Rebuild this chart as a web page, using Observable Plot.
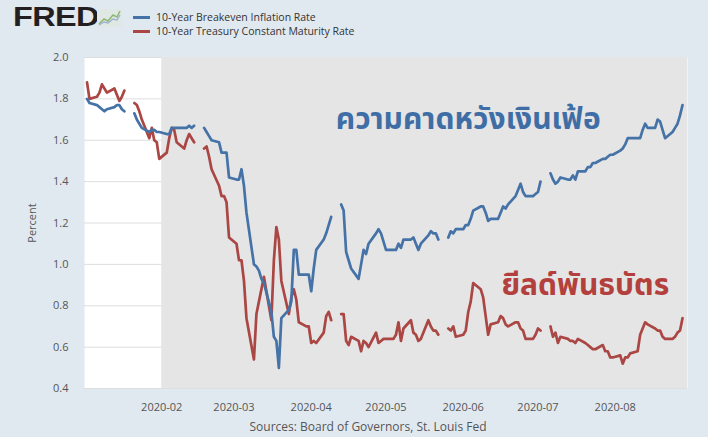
<!DOCTYPE html>
<html>
<head>
<meta charset="utf-8">
<script src="https://cdn.jsdelivr.net/npm/d3@7"></script>
<script src="https://cdn.jsdelivr.net/npm/@observablehq/plot@0.6"></script>
<style>
  html, body { margin: 0; padding: 0; background: #e1e9f0; }
  #wrap { width: 708px; height: 437px; background: #e1e9f0; overflow: hidden; font-family: "Open Sans", sans-serif; }
  #head { height: 46px; position: relative; }
  #logo { position: absolute; left: 13px; top: 2px; font-family: "Liberation Sans", Arial, sans-serif; font-weight: 900; font-size: 27px; letter-spacing: -0.5px; color: #231f20; transform: scaleX(1.2); transform-origin: left center; }
  #icon { position: absolute; left: 97px; top: 9px; }
  .leg { position: absolute; left: 133px; font-size: 10.5px; color: #333; white-space: nowrap; }
  .leg i { display: inline-block; width: 17px; height: 3px; vertical-align: middle; margin-right: 6px; position: relative; top: -1px; }
  #foot { height: 22px; text-align: center; padding-left: 28px; padding-top: 3px; box-sizing: border-box; font-size: 12px; color: #555; line-height: 18px; }
</style>
</head>
<body>
<div id="wrap">
  <div id="head">
    <div id="logo">FRED</div>
    <svg id="icon" width="25" height="18" viewBox="0 0 25 18">
      <rect x="0" y="0" width="25" height="18" fill="#dfe8e2"/>
      <polyline points="2,15 7,10 11,12 16,6 20,8 23,2" fill="none" stroke="#8fb87a" stroke-width="1.6"/>
      <polyline points="2,16 7,13 11,14 16,10 20,11 23,6" fill="none" stroke="#9fb3cf" stroke-width="1.4"/>
    </svg>
    <div class="leg" style="top:10px"><i style="background:#4572a7"></i>10-Year Breakeven Inflation Rate</div>
    <div class="leg" style="top:24px"><i style="background:#aa4643"></i>10-Year Treasury Constant Maturity Rate</div>
  </div>
  <div id="chart"></div>
  <div id="foot">Sources: Board of Governors, St. Louis Fed</div>
</div>
<script>
// Observation span (weekdays; holidays are null values)
const startDate = "2020-01-02";
const endDate = "2020-08-28";
const xDomain = ["2020-01-01", "2020-08-30"];

// 10-Year Breakeven Inflation Rate (%), one value per weekday
const breakeven = [
  // Jan
  1.80, 1.78, 1.77, 1.76, 1.75, 1.74, 1.75, 1.76, 1.77, 1.77, 1.75, 1.74, null, 1.73, 1.70, 1.68, 1.66, 1.64, 1.65, 1.65, 1.64, 1.64,
  // Feb
  1.63, 1.63, 1.66, 1.66, 1.66, 1.66, 1.66, 1.67, 1.66, 1.67, null, 1.66, 1.64, 1.62, 1.60, 1.59, 1.54, 1.54, 1.54, 1.42,
  // Mar
  1.41, 1.41, 1.46, 1.38, 1.25, 1.00, 0.99, 0.97, 0.93, 0.91, 0.77, 0.65, 0.63, 0.50, 0.74, 0.78, 0.82, 1.07, 1.07, 0.95, 0.95, 0.95,
  // Apr
  0.87, 0.98, 1.07, 1.12, 1.15, 1.19, 1.23, null, 1.29, 1.26, 1.06, 1.02, 0.98, 0.93, 1.00, 1.07, 1.05, 1.10, 1.15, 1.17, 1.15, 1.11,
  // May
  1.07, 1.07, 1.07, 1.10, 1.08, 1.12, 1.12, 1.13, 1.10, 1.07, 1.10, 1.14, 1.16, 1.15, 1.15, 1.12, null, 1.13, 1.16, 1.15, 1.17,
  // Jun
  1.17, 1.19, 1.19, 1.22, 1.26, 1.28, 1.28, 1.25, 1.21, 1.22, 1.22, 1.25, 1.28, 1.27, 1.29, 1.33, 1.36, 1.39, 1.35, 1.33, 1.33, 1.34,
  // Jul
  1.35, 1.40, null, 1.44, 1.41, 1.39, 1.40, 1.42, 1.41, 1.41, 1.43, 1.41, 1.45, 1.45, 1.47, 1.47, 1.49, 1.49, 1.51, 1.51, 1.52, 1.53, 1.53,
  // Aug
  1.55, 1.56, 1.58, 1.61, 1.61, 1.61, 1.61, 1.65, 1.68, 1.66, 1.66, 1.70, 1.69, 1.65, 1.61, 1.64, 1.66, 1.68, 1.72, 1.77
];

// 10-Year Treasury Constant Maturity Rate (%), one value per weekday
const treasury = [
  // Jan
  1.88, 1.80, 1.81, 1.83, 1.87, 1.85, 1.83, 1.85, 1.82, 1.79, 1.81, 1.84, null, 1.78, 1.77, 1.74, 1.70, 1.61, 1.66, 1.60, 1.59, 1.51,
  // Feb
  1.54, 1.61, 1.66, 1.65, 1.59, 1.56, 1.60, 1.63, 1.61, 1.59, null, 1.56, 1.57, 1.52, 1.46, 1.38, 1.33, 1.33, 1.30, 1.13,
  // Mar
  1.10, 1.02, 1.02, 0.92, 0.74, 0.54, 0.76, 0.82, 0.88, 0.94, 0.73, 1.02, 1.18, 1.12, 0.92, 0.76, 0.84, 0.88, 0.83, 0.72, 0.70, 0.70,
  // Apr
  0.62, 0.63, 0.62, 0.67, 0.75, 0.77, 0.73, null, 0.76, 0.76, 0.63, 0.61, 0.65, 0.63, 0.58, 0.63, 0.62, 0.60, 0.67, 0.62, 0.63, 0.64,
  // May
  0.64, 0.64, 0.66, 0.72, 0.63, 0.69, 0.73, 0.67, 0.66, 0.63, 0.64, 0.73, 0.70, 0.68, 0.68, 0.66, null, 0.69, 0.68, 0.70, 0.65,
  // Jun
  0.66, 0.68, 0.77, 0.82, 0.91, 0.88, 0.84, 0.75, 0.66, 0.71, 0.72, 0.75, 0.74, 0.71, 0.70, 0.72, 0.72, 0.69, 0.68, 0.64, 0.64, 0.66,
  // Jul
  0.69, 0.68, null, 0.70, 0.65, 0.67, 0.62, 0.65, 0.64, 0.63, 0.63, 0.62, 0.64, 0.62, 0.61, 0.60, 0.59, 0.59, 0.61, 0.58, 0.58, 0.55, 0.55,
  // Aug
  0.56, 0.52, 0.55, 0.55, 0.57, 0.58, 0.66, 0.69, 0.72, 0.71, 0.69, 0.68, 0.68, 0.65, 0.64, 0.64, 0.65, 0.67, 0.68, 0.74
];

// Axis ticks
const yTicks = [0.4, 0.6, 0.8, 1.0, 1.2, 1.4, 1.6, 1.8, 2.0];
const xTicks = ["2020-02-01", "2020-03-01", "2020-04-01", "2020-05-01", "2020-06-01", "2020-07-01", "2020-08-01"];

// Recession shading (NBER, Feb 2020 onward)
const recession = [{ start: "2020-02-01", end: "2020-08-30" }];

// Thai annotations anchored at (date, percent)
const annotations = [
  { label: "ความคาดหวังเงินเฟ้อ", date: "2020-06-03", value: 1.70, series: "breakeven" },
  { label: "ยีลด์พันธบัตร", date: "2020-07-20", value: 0.90, series: "treasury" }
];

const parse = d3.utcParse("%Y-%m-%d");
const dates = d3.utcDays(parse(startDate), d3.utcDay.offset(parse(endDate), 1))
  .filter(d => d.getUTCDay() !== 0 && d.getUTCDay() !== 6);
const rows = dates.map((date, i) => ({ date, breakeven: breakeven[i], treasury: treasury[i] }));
const rec = recession.map(r => ({ start: parse(r.start), end: parse(r.end) }));
const ann = annotations.map(a => ({ ...a, date: parse(a.date) }));
const colors = { breakeven: "#4572a7", treasury: "#aa4643" };
const textColors = { breakeven: "#3f6ea6", treasury: "#b3403d" };

const chart = Plot.plot({
  width: 708,
  height: 369,
  marginTop: 11,
  marginBottom: 27,
  marginLeft: 84,
  marginRight: 21,
  style: { background: "transparent", fontFamily: "'Open Sans', sans-serif", fontSize: "11px", color: "#555" },
  x: { type: "utc", domain: xDomain.map(parse) },
  y: { domain: [0.4, 2.0] },
  marks: [
    Plot.frame({ fill: "white", stroke: "none" }),
    Plot.gridY(yTicks, { stroke: "#dedede", strokeOpacity: 1 }),
    Plot.rect(rec, { x1: "start", x2: "end", fill: "#e5e5e5" }),
    Plot.axisY(yTicks, { tickSize: 0, tickPadding: 16, tickFormat: d3.format(".1f"), label: "Percent", labelAnchor: "center", labelOffset: 56, labelArrow: false, fill: "#555" }),
    Plot.axisX(xTicks.map(parse), { tickSize: 0, tickPadding: 15, tickFormat: d3.utcFormat("%Y-%m"), label: null, fill: "#555" }),
    Plot.line(rows, { x: "date", y: "treasury", stroke: colors.treasury, strokeWidth: 2.7 }),
    Plot.line(rows, { x: "date", y: "breakeven", stroke: colors.breakeven, strokeWidth: 2.7 }),
    Plot.text(ann, { x: "date", y: "value", text: "label", fill: d => textColors[d.series], fontSize: 30, fontWeight: 700, fontFamily: "'Noto Sans Thai', 'Noto Sans', 'DejaVu Sans', sans-serif" })
  ]
});
document.getElementById("chart").appendChild(chart);
</script>
</body>
</html>
